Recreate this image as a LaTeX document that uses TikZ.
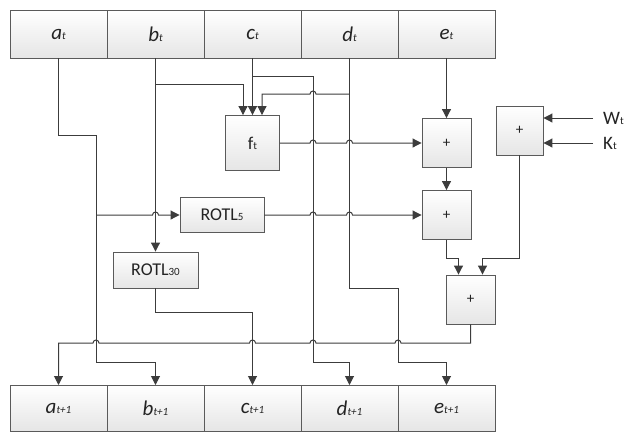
\documentclass[tikz,border=0pt]{standalone}
\usepackage{fontspec}
\setmainfont{Carlito}
\usetikzlibrary{arrows.meta,positioning,calc}
\usepackage{xcolor}
\definecolor{Wire}{RGB}{60,60,60}
\definecolor{Rim}{RGB}{90,90,90}
\definecolor{Ink}{RGB}{35,35,35}
\newcommand\lo[1]{{\fontsize{11}{12}\selectfont #1}}
\tikzset{
  cell/.style={rectangle,draw=Rim,top color=white,bottom color=black!10,
               text=Ink,font=\fontsize{21}{22}\selectfont\itshape,
               minimum width=97pt,minimum height=48pt,inner sep=0pt,
               outer sep=0pt,line width=0.9pt},
  opbox/.style={rectangle,draw=Rim,top color=white,bottom color=black!10,
               text=Ink,font=\fontsize{18}{20}\selectfont,inner sep=0pt,
               line width=0.9pt},
  addbox/.style={opbox,font=\fontsize{15}{16}\selectfont,
               minimum width=49pt,minimum height=49pt},
  lbl/.style={text=Ink,font=\fontsize{19}{20}\selectfont,inner sep=0pt,anchor=west},
  wire/.style={-{Triangle[length=9pt,width=9pt]},Wire,line width=1pt},
  hopr/.style={insert path={arc[start angle=180,end angle=360,radius=3]}},
  hopl/.style={insert path={arc[start angle=0,end angle=-180,radius=3]}},
}

\begin{document}
\begin{tikzpicture}[x=1pt,y=-1pt]
  \useasboundingbox (0,0) rectangle (637,432);
  % registers
  \node[cell] (a) at (58.5,34) {a\lo{t}};
  \node[cell,right=0pt of a] (b) {b\lo{t}};
  \node[cell,right=0pt of b] (c) {c\lo{t}};
  \node[cell,right=0pt of c] (d) {d\lo{t}};
  \node[cell,right=0pt of d] (e) {e\lo{t}};
  \node[cell,minimum height=46pt] (a1) at (58.5,408) {a\lo{t+1}};
  \node[cell,minimum height=46pt,right=0pt of a1] (b1) {b\lo{t+1}};
  \node[cell,minimum height=46pt,right=0pt of b1] (c1) {c\lo{t+1}};
  \node[cell,minimum height=46pt,right=0pt of c1] (d1) {d\lo{t+1}};
  \node[cell,minimum height=46pt,right=0pt of d1] (e1) {e\lo{t+1}};
  % operators
  \node[opbox,minimum width=54pt,minimum height=55pt] (ft) at (252.5,143) {f\lo{t}};
  \node[opbox,minimum width=84pt,minimum height=35pt] (rotlA) at (222,215) {ROTL\lo{5}};
  \node[opbox,minimum width=85pt,minimum height=36pt] (rotlB) at (155.5,270) {ROTL\lo{30}};
  \node[addbox] (addA) at (446.5,143) {+};
  \node[addbox] (addB) at (446.5,215) {+};
  \node[addbox,minimum width=47pt] (addW) at (519.5,130.5) {+};
  \node[addbox] (addC) at (470.5,299.5) {+};
  \node[lbl] (W) at (603,118) {W\lo{t}};
  \node[lbl] (K) at (603,143) {K\lo{t}};
  % junctions
  \coordinate (ja) at (96,215);
  \coordinate (jb) at (155.5,84);
  \coordinate (jc) at (252.5,76);
  \coordinate (jd) at (349.5,94);
  % wires
  \draw[wire] (a.south) |- (96,135) -- (96,362) -| (b1.north);
  \draw[wire] (ja) -- (152.5,215) [hopr] -- (rotlA.west);
  \draw[wire] (b.south) -- (rotlB.north);
  \draw[wire] (jb) -| ([xshift=-9.5pt]ft.north);
  \draw[wire] (c.south) -- (ft.north);
  \draw[wire] (jc) -| (313,362) -| (d1.north);
  \draw[wire] (jd) -- (316,94) [hopl] -- (262,94) -- ([xshift=9.5pt]ft.north);
  \draw[wire] (d.south) |- (398,288) -- (398,362) -| (e1.north);
  \draw[wire] (e.south) -- (addA.north);
  \draw[wire] (ft.east) -- (310,143) [hopr] -- (346.5,143) [hopr] -- (addA.west);
  \draw[wire] (addA.south) -- (addB.north);
  \draw[wire] (rotlA.east) -- (310,215) [hopr] -- (346.5,215) [hopr] -- (addB.west);
  \draw[wire] ([xshift=-10pt]W.west) -- (addW.east |- W.west);
  \draw[wire] ([xshift=-10pt]K.west) -- (addW.east |- K.west);
  \draw[wire] (addB.south) |- (458.5,258) -- ([xshift=-12pt]addC.north);
  \draw[wire] (addW.south) |- (482.5,258) -- ([xshift=12pt]addC.north);
  \draw[wire] (rotlB.south) |- (252.5,312) -- (c1.north);
  \draw[wire] (addC.south) |- (401,343) [hopl] -- (316,343) [hopl]
    -- (255.5,343) [hopl] -- (99,343) [hopl] -| (a1.north);
\end{tikzpicture}
\end{document}
